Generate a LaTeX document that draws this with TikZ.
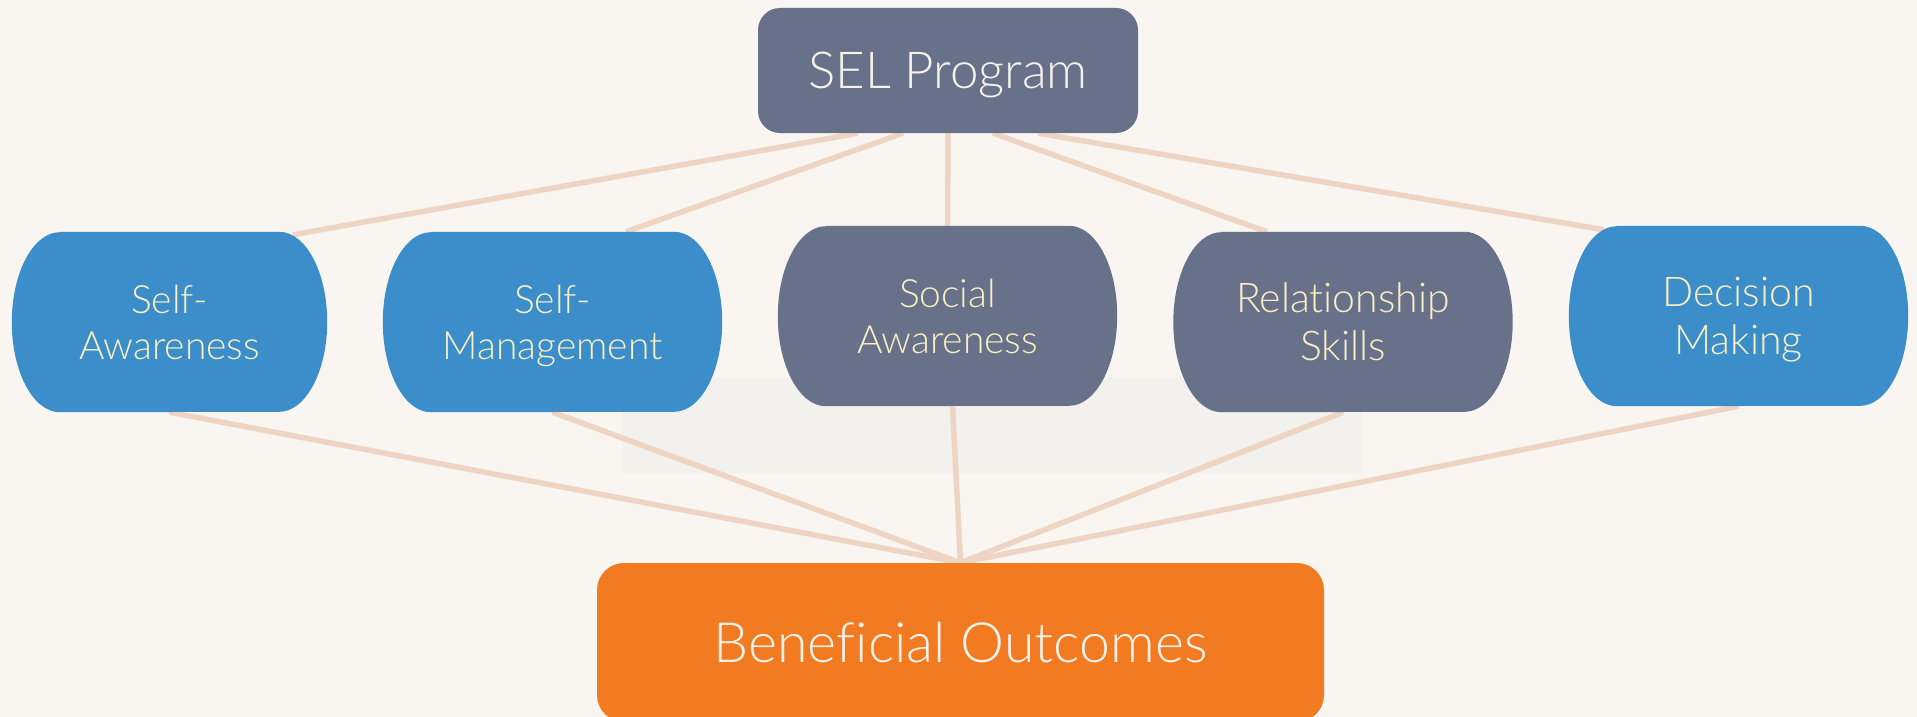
\documentclass[tikz,border=0pt]{standalone}
\usepackage{fontspec}
\IfFontExistsTF{Lato Light}
  {\setmainfont{Lato Light}[Ligatures=NoCommon]}
  {\setmainfont{Lato}[Ligatures=NoCommon]}
\usetikzlibrary{calc}

\definecolor{paper}{HTML}{F9F6F1}
\definecolor{panelgray}{HTML}{F2F1ED}
\definecolor{slate}{HTML}{67718A}
\definecolor{skyblue}{HTML}{3C8ECB}
\definecolor{outorange}{HTML}{F27B21}
\definecolor{linkpeach}{HTML}{EDD4C3}
\definecolor{labelcream}{HTML}{FBF0C2}
\definecolor{titlewhite}{HTML}{F7F3EC}

\pgfdeclarelayer{bg}
\pgfdeclarelayer{shapes}
\pgfsetlayers{bg,shapes,main}

\tikzset{
  capsule/.style={rectangle, inner sep=0pt, minimum height=180pt,
    align=center, text=labelcream, font=\fontsize{39}{46}\selectfont},
  biglabel/.style={font=\fontsize{41}{48}\selectfont},
  headbox/.style={rectangle, rounded corners=22pt, fill=slate, inner sep=0pt,
    minimum width=380pt, minimum height=125pt, text=titlewhite,
    text depth=0pt, font=\fontsize{51}{60}\selectfont},
  outbox/.style={rectangle, rounded corners=27pt, fill=outorange, inner sep=0pt,
    minimum width=727pt, minimum height=159pt, text=titlewhite,
    font=\fontsize{55.5}{64}\selectfont},
  link/.style={draw=linkpeach, line width=5.5pt},
}

% filled capsule (straight top/bottom, half-elliptic sides) behind a node
\newcommand\capsulefill[2]{%
  \fill[#2] ([xshift=48pt]#1.north west) -- ([xshift=-48pt]#1.north east)
    arc[start angle=90, end angle=-90, x radius=48pt, y radius=90pt]
    -- ([xshift=48pt]#1.south west)
    arc[start angle=270, end angle=90, x radius=48pt, y radius=90pt] -- cycle;}

\begin{document}
\begin{tikzpicture}[x=1pt, y=-1pt]
  \useasboundingbox (0,0) rectangle (1917,717);
  \clip (0,0) rectangle (1917,717);

  % nodes
  \node[headbox] (sel) at (948,70.5) {SEL Program};
  \node[capsule, minimum width=315pt] (sa)  at (169.5,322) {Self-\\Awareness};
  \node[capsule, minimum width=339pt, text depth=0pt] (sm) at (552.5,322) {Self-\\Management};
  \node[capsule, minimum width=339pt] (soc) at (947.5,316) {Social\\Awareness};
  \node[capsule, biglabel, minimum width=339pt] (rs) at (1343,322) {Relationship\\Skills};
  \node[capsule, biglabel, minimum width=339pt, text depth=0pt] (dm) at (1738.5,316) {Decision\\Making};
  \node[outbox] (out) at (960.5,642.5) {Beneficial Outcomes};

  % capsule fills
  \begin{pgfonlayer}{shapes}
    \capsulefill{sa}{skyblue}
    \capsulefill{sm}{skyblue}
    \capsulefill{soc}{slate}
    \capsulefill{rs}{slate}
    \capsulefill{dm}{skyblue}
  \end{pgfonlayer}

  % background, panel and connectors
  \begin{pgfonlayer}{bg}
    \fill[paper] (0,0) rectangle (1917,717);
    \fill[panelgray] (622,377) rectangle (1362,473);

    \draw[link] ([xshift=-90pt]sel.south) -- ([xshift=123.5pt,yshift=-3pt]sa.north);
    \draw[link] ([xshift=-45pt]sel.south) -- ([xshift=73.5pt]sm.north);
    \draw[link] (sel.south) -- (soc.north);
    \draw[link] ([xshift=45pt]sel.south) -- ([xshift=-76pt]rs.north);
    \draw[link] ([xshift=90pt]sel.south) -- ([xshift=-134.5pt,yshift=-4pt]dm.north);

    \draw[link] (sa.south) -- (out.north);
    \draw[link] (sm.south) -- (out.north);
    \draw[link] ([xshift=5pt]soc.south) -- (out.north);
    \draw[link] (rs.south) -- (out.north);
    \draw[link] (dm.south) -- (out.north);
  \end{pgfonlayer}
\end{tikzpicture}
\end{document}
